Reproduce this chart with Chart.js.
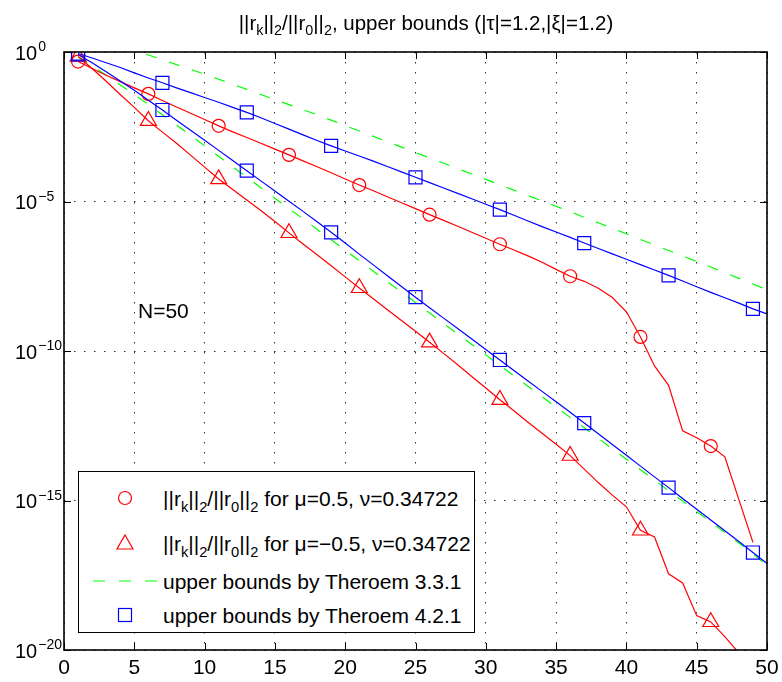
<!DOCTYPE html>
<html>
<head>
<meta charset="utf-8">
<script src="https://cdn.jsdelivr.net/npm/chart.js@4.4.1/dist/chart.umd.min.js"></script>
<style>
  body { margin: 0; background: #fff; font-family: "Liberation Sans", Arial, Helvetica, sans-serif; color: #000; }
  #wrap { position: relative; width: 782px; height: 682px; }
  #plot { position: absolute; left: 0; top: 0; }
  sub { font-size: 70%; vertical-align: -0.38em; line-height: 0; }
  #title { position: absolute; left: 0; top: 11px; width: 852px; text-align: center; font-size: 20.5px; white-space: nowrap; }
  #note { position: absolute; left: 138px; top: 299px; font-size: 21px; }
  #legend { position: absolute; left: 78px; top: 471px; width: 395px; height: 160px; background: #fff; border: 1px solid #000; }
  .row { position: absolute; left: 0; height: 36px; display: flex; align-items: center; font-size: 21px; white-space: nowrap; }
  .row svg { position: absolute; left: 14px; top: 0; }
  .row span { position: absolute; left: 84px; top: 7px; }
</style>
</head>
<body>
<div id="wrap">
  <canvas id="plot" width="782" height="682"></canvas>
  <div id="title">||r<sub>k</sub>||<sub>2</sub>/||r<sub>0</sub>||<sub>2</sub>, upper bounds (|τ|=1.2,|ξ|=1.2)</div>
  <div id="note">N=50</div>
  <div id="legend">
    <div class="row" style="top:8px">
      <svg width="64" height="36"><circle cx="32" cy="18" r="6.5" fill="none" stroke="#ff0000" stroke-width="1.2"/></svg>
      <span>||r<sub>k</sub>||<sub>2</sub>/||r<sub>0</sub>||<sub>2</sub> for μ=0.5, ν=0.34722</span>
    </div>
    <div class="row" style="top:53px">
      <svg width="64" height="36"><polygon points="32,10 40,24 24,24" fill="none" stroke="#ff0000" stroke-width="1.2"/></svg>
      <span>||r<sub>k</sub>||<sub>2</sub>/||r<sub>0</sub>||<sub>2</sub> for μ=−0.5, ν=0.34722</span>
    </div>
    <div class="row" style="top:91px">
      <svg width="64" height="36"><line x1="0" y1="18" x2="64" y2="18" stroke="#00ff00" stroke-width="1.2" stroke-dasharray="12 14"/></svg>
      <span>upper bounds by Theroem 3.3.1</span>
    </div>
    <div class="row" style="top:125px">
      <svg width="64" height="36"><rect x="25.5" y="11.5" width="13" height="13" fill="none" stroke="#0000ff" stroke-width="1.2"/></svg>
      <span>upper bounds by Theroem 4.2.1</span>
    </div>
  </div>
</div>
<script>
// iteration index k
var iterations = [1,2,3,4,5,6,7,8,9,10,11,12,13,14,15,16,17,18,19,20,21,22,23,24,25,
                  26,27,28,29,30,31,32,33,34,35,36,37,38,39,40,41,42,43,44,45,46,47,48,49,50];

// log10 of the plotted values
var muPlusLog = [-0.32,-0.55,-0.78,-0.99,-1.20,-1.40,-1.62,-1.84,-2.05,-2.26,
                 -2.47,-2.67,-2.86,-3.05,-3.25,-3.44,-3.64,-3.84,-4.04,-4.25,
                 -4.45,-4.64,-4.84,-5.04,-5.24,-5.44,-5.63,-5.83,-6.03,-6.23,
                 -6.43,-6.62,-6.82,-7.03,-7.27,-7.50,-7.67,-7.90,-8.21,-8.69,
                 -9.53,-10.50,-11.15,-12.67,-12.90,-13.18,-13.54,-14.97,-16.40,null];
var muMinusLog = [-0.15,-0.55,-0.98,-1.42,-1.85,-2.30,-2.68,-3.05,-3.45,-3.85,
                  -4.25,-4.60,-4.95,-5.30,-5.67,-6.05,-6.42,-6.78,-7.15,-7.52,
                  -7.89,-8.25,-8.62,-8.98,-9.34,-9.71,-10.08,-10.46,-10.85,-11.24,
                  -11.63,-12.00,-12.38,-12.75,-13.12,-13.50,-13.95,-14.40,-14.82,-15.21,
                  -16.00,-16.22,-17.45,-17.76,-18.85,-19.06,-19.55,-20.10,null,null];
var bound331UpperLog = [0.70,0.54,0.38,0.22,0.06,-0.10,-0.26,-0.42,-0.58,-0.74,
                        -0.91,-1.08,-1.25,-1.42,-1.59,-1.76,-1.93,-2.10,-2.28,-2.46,
                        -2.64,-2.82,-3.00,-3.18,-3.36,-3.54,-3.72,-3.90,-4.08,-4.26,
                        -4.44,-4.62,-4.80,-4.98,-5.16,-5.34,-5.53,-5.71,-5.90,-6.08,
                        -6.27,-6.45,-6.64,-6.82,-7.01,-7.19,-7.38,-7.57,-7.76,-7.95];
var bound331LowerLog = [-0.15,-0.45,-0.78,-1.10,-1.42,-1.76,-2.10,-2.44,-2.79,-3.14,
                        -3.49,-3.84,-4.19,-4.54,-4.89,-5.24,-5.58,-5.93,-6.28,-6.63,
                        -6.98,-7.33,-7.68,-8.03,-8.38,-8.73,-9.08,-9.43,-9.78,-10.13,
                        -10.48,-10.83,-11.18,-11.53,-11.88,-12.22,-12.57,-12.92,-13.27,-13.62,
                        -13.97,-14.32,-14.67,-15.02,-15.37,-15.72,-16.07,-16.42,-16.78,-17.18];
var bound421UpperLog = [-0.05,-0.20,-0.36,-0.52,-0.70,-0.87,-1.03,-1.20,-1.36,-1.52,
                        -1.68,-1.85,-2.02,-2.20,-2.39,-2.58,-2.77,-2.96,-3.14,-3.31,
                        -3.48,-3.65,-3.83,-4.01,-4.19,-4.37,-4.55,-4.73,-4.91,-5.09,
                        -5.27,-5.46,-5.65,-5.84,-6.02,-6.20,-6.39,-6.57,-6.75,-6.93,
                        -7.11,-7.29,-7.47,-7.66,-7.85,-8.04,-8.22,-8.40,-8.59,-8.76];
var bound421LowerLog = [-0.08,-0.36,-0.66,-0.97,-1.28,-1.61,-1.94,-2.28,-2.62,-2.95,
                        -3.29,-3.63,-3.97,-4.31,-4.65,-4.99,-5.33,-5.68,-6.03,-6.39,
                        -6.76,-7.12,-7.48,-7.84,-8.20,-8.55,-8.90,-9.25,-9.60,-9.95,
                        -10.30,-10.65,-11.00,-11.35,-11.70,-12.05,-12.41,-12.77,-13.13,-13.49,
                        -13.85,-14.21,-14.57,-14.93,-15.29,-15.65,-16.01,-16.37,-16.74,-17.11];

// which iterations carry a marker
var residualMarkerK = [1,6,11,16,21,26,31,36,41,46];
var boundMarkerK = [1,7,13,19,25,31,37,43,49];

var xTicks = [0,5,10,15,20,25,30,35,40,45,50];
var yTickExps = [-20,-15,-10,-5,0];

var FONT = '"Liberation Sans", Arial, Helvetica, sans-serif';

function points(logs) {
  return iterations.map(function(k, i) {
    return { x: k, y: logs[i] === null ? null : Math.pow(10, logs[i]) };
  });
}

function series(logs, color, style, markerK, radius, dash) {
  return {
    data: points(logs),
    borderColor: color,
    borderWidth: 1.2,
    borderDash: dash || [],
    backgroundColor: 'transparent',
    pointStyle: style,
    pointBorderColor: color,
    pointBackgroundColor: 'transparent',
    pointBorderWidth: 1.2,
    pointRadius: function(c) {
      return markerK.indexOf(iterations[c.dataIndex]) >= 0 ? radius : 0;
    },
    pointHoverRadius: 0,
    tension: 0,
    spanGaps: false
  };
}

// box, inward ticks and tick labels in MATLAB style
var axisDecor = {
  id: 'axisDecor',
  afterDraw: function(chart) {
    var ctx = chart.ctx, a = chart.chartArea, x = chart.scales.x, y = chart.scales.y;
    ctx.save();
    ctx.strokeStyle = '#000';
    ctx.lineWidth = 1;
    ctx.beginPath();
    x.ticks.forEach(function(t) {
      var px = Math.round(x.getPixelForValue(t.value)) + 0.5;
      ctx.moveTo(px, a.bottom); ctx.lineTo(px, a.bottom - 7);
      ctx.moveTo(px, a.top); ctx.lineTo(px, a.top + 7);
    });
    y.ticks.forEach(function(t) {
      var py = Math.round(y.getPixelForValue(t.value)) + 0.5;
      ctx.moveTo(a.left, py); ctx.lineTo(a.left + 7, py);
      ctx.moveTo(a.right, py); ctx.lineTo(a.right - 7, py);
    });
    ctx.stroke();
    ctx.lineWidth = 1.6;
    ctx.strokeRect(a.left, a.top, a.right - a.left, a.bottom - a.top);

    ctx.fillStyle = '#000';
    ctx.textBaseline = 'middle';
    ctx.textAlign = 'center';
    ctx.font = '21px ' + FONT;
    x.ticks.forEach(function(t) {
      ctx.fillText(String(t.value), x.getPixelForValue(t.value), a.bottom + 18);
    });

    ctx.textBaseline = 'alphabetic';
    ctx.textAlign = 'left';
    y.ticks.forEach(function(t) {
      var py = y.getPixelForValue(t.value);
      var e = Math.round(Math.log10(t.value));
      ctx.font = '20px ' + FONT;
      ctx.fillText('10', 15, py + 7.5);
      var w = ctx.measureText('10').width;
      ctx.font = '14px ' + FONT;
      ctx.fillText(e === 0 ? '0' : '\u2212' + (-e), 15 + w + 1, py - 1);
    });
    ctx.restore();
  }
};

new Chart(document.getElementById('plot'), {
  type: 'line',
  data: {
    datasets: [
      series(bound421UpperLog, '#0000ff', 'rect', boundMarkerK, 9.2),
      series(bound421LowerLog, '#0000ff', 'rect', boundMarkerK, 9.2),
      series(muPlusLog, '#ff0000', 'circle', residualMarkerK, 6.5),
      series(muMinusLog, '#ff0000', 'triangle', residualMarkerK, 9.2),
      series(bound331UpperLog, '#00ff00', 'line', [], 0, [11, 13]),
      series(bound331LowerLog, '#00ff00', 'line', [], 0, [11, 13])
    ]
  },
  options: {
    responsive: false,
    devicePixelRatio: 1,
    animation: false,
    events: [],
    layout: { padding: { left: 64, right: 15, top: 52, bottom: 32 } },
    plugins: { legend: { display: false }, title: { display: false }, tooltip: { enabled: false } },
    scales: {
      x: {
        type: 'linear',
        min: 0,
        max: 50,
        afterBuildTicks: function(s) { s.ticks = xTicks.map(function(v) { return { value: v }; }); },
        ticks: { display: false },
        grid: { color: 'rgba(0,0,0,0.8)', lineWidth: 1, drawTicks: false },
        border: { display: false, dash: [1.5, 8.5] }
      },
      y: {
        type: 'logarithmic',
        min: 1e-20,
        max: 1,
        afterBuildTicks: function(s) { s.ticks = yTickExps.map(function(e) { return { value: Math.pow(10, e) }; }); },
        ticks: { display: false },
        grid: { color: 'rgba(0,0,0,0.8)', lineWidth: 1, drawTicks: false },
        border: { display: false, dash: [1.5, 8.5] }
      }
    }
  },
  plugins: [axisDecor]
});
</script>
</body>
</html>
